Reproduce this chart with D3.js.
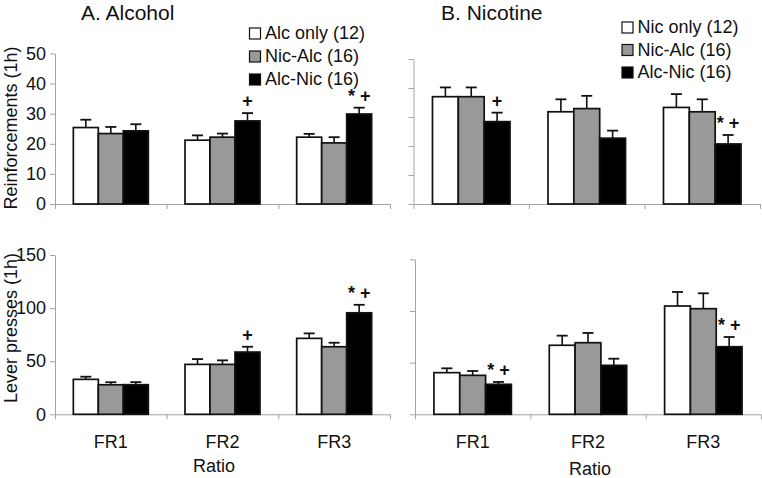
<!DOCTYPE html>
<html>
<head>
<meta charset="utf-8">
<script src="https://cdn.jsdelivr.net/npm/d3@7"></script>
<style>
  html, body { margin: 0; padding: 0; background: #fff; }
  svg { display: block; }
  text { font-family: "Liberation Sans", Arial, sans-serif; fill: #111; }
</style>
</head>
<body>
<svg id="chart" width="762" height="478"></svg>
<script>
// ---------------- DATA ----------------
const categories = ["FR1", "FR2", "FR3"];
const alcSeriesNames = ["Alc only (12)", "Nic-Alc (16)", "Alc-Nic (16)"];
const nicSeriesNames = ["Nic only (12)", "Nic-Alc (16)", "Alc-Nic (16)"];

// A. Alcohol – Reinforcements (1h)
const alcReinfAlcOnly = [25.4, 21.2, 22.2];
const alcReinfAlcOnlyErr = [2.6, 1.6, 1.1];
const alcReinfNicAlc = [23.4, 22.2, 20.3];
const alcReinfNicAlcErr = [2.2, 1.2, 1.9];
const alcReinfAlcNic = [24.3, 27.6, 29.9];
const alcReinfAlcNicErr = [2.2, 2.6, 2.1];

// B. Nicotine – Reinforcements (1h)
const nicReinfNicOnly = [37.0, 31.8, 33.3];
const nicReinfNicOnlyErr = [3.2, 4.3, 4.6];
const nicReinfNicAlc = [37.0, 32.9, 31.8];
const nicReinfNicAlcErr = [3.2, 4.4, 4.3];
const nicReinfAlcNic = [28.4, 22.7, 20.7];
const nicReinfAlcNicErr = [3.1, 2.6, 3.1];

// A. Alcohol – Lever presses (1h)
const alcPressAlcOnly = [32.9, 47.0, 71.5];
const alcPressAlcOnlyErr = [2.5, 5.0, 4.7];
const alcPressNicAlc = [27.8, 47.0, 63.6];
const alcPressNicAlcErr = [2.4, 3.8, 3.8];
const alcPressAlcNic = [27.9, 58.6, 95.6];
const alcPressAlcNicErr = [2.4, 5.0, 7.5];

// B. Nicotine – Lever presses (1h)
const nicPressNicOnly = [40.3, 66.8, 104.8];
const nicPressNicOnlyErr = [4.2, 9.3, 13.6];
const nicPressNicAlc = [37.7, 69.3, 102.2];
const nicPressNicAlcErr = [4.2, 9.4, 14.9];
const nicPressAlcNic = [29.0, 47.4, 65.4];
const nicPressAlcNicErr = [2.3, 6.4, 9.4];

// tick values
const reinfTicks = [0, 10, 20, 30, 40, 50];
const pressTicks = [0, 50, 100, 150];

// significance marks: [category index, series index, label]
const alcReinfMarks = [[1, 2, "+"], [2, 2, "* +"]];
const nicReinfMarks = [[0, 2, "+"], [2, 2, "* +"]];
const alcPressMarks = [[1, 2, "+"], [2, 2, "* +"]];
const nicPressMarks = [[0, 2, "* +"], [2, 2, "* +"]];

// ---------------- STYLE ----------------
const seriesFill = ["#ffffff", "#999999", "#000000"];
const axisColor = "#a3a3a3";
const svg = d3.select("#chart");

function drawPanel(cfg) {
  const g = svg.append("g");
  const x0 = d3.scaleBand().domain(categories).range(cfg.xRange).padding(0);
  const x1 = d3.scaleBand().domain(d3.range(3)).range([0, x0.bandwidth()])
    .paddingInner(0).paddingOuter(0.734);
  const y = d3.scaleLinear().domain(cfg.domain).range(cfg.yRange);
  const xb = d3.scaleLinear().domain([0, categories.length]).range(cfg.xRange);

  // y axis
  const yAxis = d3.axisLeft(y).tickValues(cfg.ticks).tickSize(5).tickSizeOuter(0).tickPadding(4)
    .tickFormat(cfg.showLabels ? d3.format("d") : () => "");
  const ya = g.append("g").attr("transform", `translate(${cfg.xRange[0]},0)`).call(yAxis);
  ya.select(".domain").attr("stroke", axisColor);
  ya.selectAll(".tick line").attr("stroke", axisColor);
  ya.selectAll(".tick text").attr("font-size", 18).attr("fill", "#111")
    .attr("font-family", '"Liberation Sans", Arial, sans-serif');

  // x axis (tick marks at band boundaries)
  const xAxis = d3.axisBottom(xb).tickValues(d3.range(categories.length + 1))
    .tickSize(5).tickSizeOuter(0).tickFormat(() => "");
  const xa = g.append("g").attr("transform", `translate(0,${cfg.yRange[0]})`).call(xAxis);
  xa.select(".domain").attr("stroke", axisColor);
  xa.selectAll(".tick line").attr("stroke", axisColor);

  // category labels (bottom panels only)
  if (cfg.showCats) {
    g.selectAll("text.cat").data(categories).join("text")
      .attr("class", "cat")
      .attr("x", d => x0(d) + x0.bandwidth() / 2)
      .attr("y", cfg.yRange[0] + 34)
      .attr("text-anchor", "middle").attr("font-size", 18)
      .text(d => d);
  }

  // bars
  const rows = [];
  cfg.values.forEach((vals, s) => {
    vals.forEach((v, c) => rows.push({ c, s, v, e: cfg.errors[s][c] }));
  });
  const bx = d => x0(categories[d.c]) + x1(d.s);
  const bw = x1.bandwidth();

  // error bars (drawn first, upward only)
  g.selectAll("line.err").data(rows).join("line")
    .attr("x1", d => bx(d) + bw / 2).attr("x2", d => bx(d) + bw / 2)
    .attr("y1", d => y(d.v)).attr("y2", d => y(d.v + d.e))
    .attr("stroke", "#111").attr("stroke-width", 1.6);
  g.selectAll("line.cap").data(rows).join("line")
    .attr("x1", d => bx(d) + bw / 2 - 5.5).attr("x2", d => bx(d) + bw / 2 + 5.5)
    .attr("y1", d => y(d.v + d.e)).attr("y2", d => y(d.v + d.e))
    .attr("stroke", "#111").attr("stroke-width", 1.8);

  g.selectAll("rect.bar").data(rows).join("rect")
    .attr("x", bx).attr("width", bw)
    .attr("y", d => y(d.v)).attr("height", d => y(0) - y(d.v))
    .attr("fill", d => seriesFill[d.s])
    .attr("stroke", "#111").attr("stroke-width", 1.7);

  // significance marks
  g.selectAll("text.mark").data(cfg.marks).join("text")
    .attr("x", d => x0(categories[d[0]]) + x1(d[1]) + bw / 2)
    .attr("y", d => y(cfg.values[d[1]][d[0]] + cfg.errors[d[1]][d[0]]) - 6)
    .attr("text-anchor", "middle").attr("font-size", 18).attr("font-weight", "bold")
    .text(d => d[2]);
}

// ---------------- PANELS ----------------
drawPanel({
  xRange: [55, 390], yRange: [204, 53.5], domain: [0, 50], ticks: reinfTicks, showLabels: true, showCats: false,
  values: [alcReinfAlcOnly, alcReinfNicAlc, alcReinfAlcNic],
  errors: [alcReinfAlcOnlyErr, alcReinfNicAlcErr, alcReinfAlcNicErr],
  marks: alcReinfMarks
});
drawPanel({
  xRange: [413.5, 760], yRange: [204, 59], domain: [0, 50], ticks: reinfTicks, showLabels: false, showCats: false,
  values: [nicReinfNicOnly, nicReinfNicAlc, nicReinfAlcNic],
  errors: [nicReinfNicOnlyErr, nicReinfNicAlcErr, nicReinfAlcNicErr],
  marks: nicReinfMarks
});
drawPanel({
  xRange: [55, 390], yRange: [414.3, 255], domain: [0, 150], ticks: pressTicks, showLabels: true, showCats: true,
  values: [alcPressAlcOnly, alcPressNicAlc, alcPressAlcNic],
  errors: [alcPressAlcOnlyErr, alcPressNicAlcErr, alcPressAlcNicErr],
  marks: alcPressMarks
});
drawPanel({
  xRange: [415, 761], yRange: [414.3, 259.3], domain: [0, 150], ticks: pressTicks, showLabels: false, showCats: true,
  values: [nicPressNicOnly, nicPressNicAlc, nicPressAlcNic],
  errors: [nicPressNicOnlyErr, nicPressNicAlcErr, nicPressAlcNicErr],
  marks: nicPressMarks
});

// ---------------- TITLES & LABELS ----------------
svg.append("text").attr("x", 81).attr("y", 19.5).attr("font-size", 21).text("A. Alcohol");
svg.append("text").attr("x", 441).attr("y", 19.5).attr("font-size", 21).text("B. Nicotine");

svg.append("text").attr("transform", "translate(17,128) rotate(-90)")
  .attr("text-anchor", "middle").attr("font-size", 18).text("Reinforcements (1h)");
svg.append("text").attr("transform", "translate(17,328) rotate(-90)")
  .attr("text-anchor", "middle").attr("font-size", 18).text("Lever presses (1h)");

svg.append("text").attr("x", 214).attr("y", 472).attr("text-anchor", "middle")
  .attr("font-size", 18).text("Ratio");
svg.append("text").attr("x", 590).attr("y", 475).attr("text-anchor", "middle")
  .attr("font-size", 18).text("Ratio");

// legends
function legend(names, x, y0, dy) {
  const lg = svg.append("g");
  const items = lg.selectAll("g").data(names).join("g")
    .attr("transform", (d, i) => `translate(${x},${y0 + i * dy})`);
  items.append("rect").attr("x", 0.5).attr("y", -11).attr("width", 11).attr("height", 11)
    .attr("fill", (d, i) => seriesFill[i]).attr("stroke", "#111").attr("stroke-width", 1.2);
  items.append("text").attr("x", 16).attr("y", 0).attr("font-size", 18).text(d => d);
}
legend(alcSeriesNames, 249, 39, 23);
legend(nicSeriesNames, 621.5, 33, 22.5);
</script>
</body>
</html>
